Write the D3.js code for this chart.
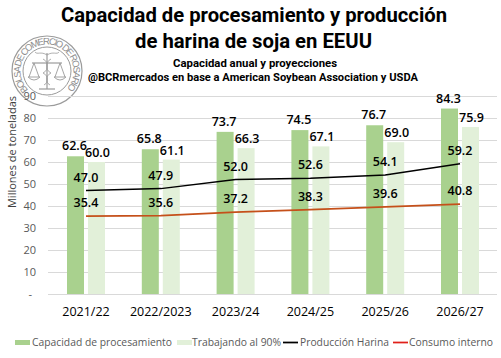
<!DOCTYPE html>
<html><head><meta charset="utf-8">
<script src="https://cdn.jsdelivr.net/npm/d3@7"></script>
<style>
body{margin:0;background:#fff;}
svg{display:block;}
</style></head>
<body>
<svg id="chart" width="501" height="358"></svg>
<script>
const categories = ["2021/22","2022/2023","2023/24","2024/25","2025/26","2026/27"];
const capacidad = [62.6,65.8,73.7,74.5,76.7,84.3];
const trabajando = [60.0,61.1,66.3,67.1,69.0,75.9];
const produccion = [47.0,47.9,52.0,52.6,54.1,59.2];
const consumo = [35.4,35.6,37.2,38.3,39.6,40.8];
const yTicks = [0,10,20,30,40,50,60,70,80,90];

const svg = d3.select("#chart");
const W = 501, H = 358;
svg.append("rect").attr("width",W).attr("height",H).attr("fill","#fff");

const x = d3.scaleBand().domain(categories).range([48.6,497.4]).padding(0);
const y = d3.scaleLinear().domain([0,90]).range([294,96]);
const bw = x.bandwidth();
const x1 = d3.scaleBand().domain(["cap","trab"]).range([bw/2-19,bw/2+19]).paddingInner(0.19).paddingOuter(0);

const fontLab = "'Open Sans', 'Liberation Sans', sans-serif";

// seal / logo
const seal = svg.append("g").attr("transform","translate(47,71)").attr("fill","none").attr("stroke","#8a8a8a").attr("opacity",0.85);
seal.append("circle").attr("r",35).attr("stroke-width",1.2);
seal.append("circle").attr("r",24).attr("stroke-width",1);
const r = 26.5, a0 = -135*Math.PI/180, a1 = 135*Math.PI/180;
svg.append("defs").append("path").attr("id","sealArc")
  .attr("d",`M${r*Math.sin(a0)},${-r*Math.cos(a0)} A${r},${r} 0 1 1 ${r*Math.sin(a1)},${-r*Math.cos(a1)}`);
seal.append("text").attr("stroke","none").attr("fill","#7a7a7a")
  .style("font-family","'Liberation Sans', sans-serif").style("font-size","9.5px")
  .append("textPath").attr("href","#sealArc").attr("textLength",r*270*Math.PI/180-2).attr("lengthAdjust","spacing")
  .text("BOLSA DE COMERCIO DE ROSARIO");
// scales icon
seal.append("line").attr("x1",0).attr("y1",-18).attr("x2",0).attr("y2",18).attr("stroke-width",1.2);
seal.append("line").attr("x1",-15).attr("y1",-8).attr("x2",15).attr("y2",-8).attr("stroke-width",1.2);
[-13,13].forEach(cx=>{
  seal.append("path").attr("d",`M${cx},-8 L${cx-5},6 M${cx},-8 L${cx+5},6 M${cx-6},6 Q${cx},12 ${cx+6},6 Z`).attr("stroke-width",0.9);
});
seal.append("path").attr("d","M-4,-12 C4,-8 -4,-2 4,2 C-4,6 4,10 -3,14 M4,-12 C-4,-8 4,-2 -4,2 C4,6 -4,10 3,14").attr("stroke-width",0.8);
seal.append("path").attr("d","M0,-16 C-6,-20 -10,-16 -12,-19 M0,-16 C6,-20 10,-16 12,-19").attr("stroke-width",0.8);
seal.append("line").attr("x1",-8).attr("y1",18).attr("x2",8).attr("y2",18).attr("stroke-width",1.2);

// titles
const titleFont = "'Liberation Sans Narrow','Roboto','Liberation Sans',sans-serif";
function addText(txt,cx,yb,size,len,weight,fill){
  svg.append("text").attr("x",cx).attr("y",yb).attr("text-anchor","middle")
    .attr("textLength",len).attr("lengthAdjust","spacingAndGlyphs")
    .style("font-family",titleFont).style("font-size",size+"px").style("font-weight",weight).attr("fill",fill||"#000")
    .text(txt);
}
addText("Capacidad de procesamiento y producción",254,22,21,386,"bold");
addText("de harina de soja en EEUU",253.5,47.5,21,237,"bold");
addText("Capacidad anual y proyecciones",255,67,11.5,164,"bold");
addText("@BCRmercados en base a American Soybean Association y USDA",253,81,11.5,330,"bold");

// grid
svg.append("g").selectAll("line").data(yTicks).join("line")
  .attr("x1",48).attr("x2",497).attr("y1",d=>y(d)+0.5).attr("y2",d=>y(d)+0.5)
  .attr("stroke","#d9d9d9").attr("stroke-width",1);

// y tick labels
svg.append("g").selectAll("text").data(yTicks).join("text")
  .attr("x",d=>d===0?32:36).attr("y",d=>y(d)+4).attr("text-anchor","end")
  .style("font-family",fontLab).style("font-size","11px").attr("fill","#595959")
  .text(d=>d===0?"-":d);

// y axis title
svg.append("text").attr("transform","translate(16,152) rotate(-90)").attr("text-anchor","middle")
  .style("font-family",fontLab).style("font-size","11px").attr("fill","#404040")
  .text("Millones de toneladas");

// bars
const g = svg.append("g");
const groups = g.selectAll("g").data(categories).join("g").attr("transform",d=>`translate(${x(d)},0)`);
groups.append("rect").attr("x",x1("cap")).attr("width",x1.bandwidth())
  .attr("y",(d,i)=>y(capacidad[i])).attr("height",(d,i)=>y(0)-y(capacidad[i])).attr("fill","#A9D18E");
groups.append("rect").attr("x",x1("trab")).attr("width",x1.bandwidth())
  .attr("y",(d,i)=>y(trabajando[i])).attr("height",(d,i)=>y(0)-y(trabajando[i])).attr("fill","#E2F0D9");

// lines
const cx = d=>x(d)+bw/2;
const lineGen = vals => d3.line().x((d,i)=>cx(categories[i])).y(d=>y(d))(vals);
svg.append("path").attr("d",lineGen(consumo)).attr("fill","none").attr("stroke","#C5501A").attr("stroke-width",1.75);
svg.append("path").attr("d",lineGen(produccion)).attr("fill","none").attr("stroke","#000").attr("stroke-width",1.5);

// data labels
const lab = (sel)=>sel.style("font-family",fontLab).style("font-size","12.5px").style("font-weight","600").attr("fill","#000").attr("text-anchor","middle");
groups.append("text").call(lab).attr("x",x1("cap")+x1.bandwidth()/2-1).attr("y",(d,i)=>y(capacidad[i])-6).text((d,i)=>capacidad[i].toFixed(1));
groups.append("text").call(lab).attr("x",x1("trab")+x1.bandwidth()/2+1).attr("y",(d,i)=>y(trabajando[i])-5).text((d,i)=>trabajando[i].toFixed(1));
groups.append("text").call(lab).attr("x",bw/2).attr("y",(d,i)=>y(produccion[i])-9).text((d,i)=>produccion[i].toFixed(1));
groups.append("text").call(lab).attr("x",bw/2).attr("y",(d,i)=>y(consumo[i])-9).text((d,i)=>consumo[i].toFixed(1));

// x labels
svg.append("g").selectAll("text").data(categories).join("text")
  .attr("x",d=>cx(d)).attr("y",316).attr("text-anchor","middle")
  .style("font-family",fontLab).style("font-size","12.5px").attr("fill","#000").text(d=>d);

// legend
const legend = [
  {t:"Capacidad de procesamiento", type:"rect", c:"#A9D18E", sx:15, tx:32, tl:140},
  {t:"Trabajando al 90%", type:"rect", c:"#E2F0D9", sx:177, tx:192, tl:89},
  {t:"Producción Harina", type:"line", c:"#000", sx:283, tx:300, tl:89},
  {t:"Consumo interno", type:"line", c:"#E0201A", sx:393, tx:409, tl:84}
];
const lg = svg.append("g");
legend.forEach(l=>{
  if(l.type==="rect") lg.append("rect").attr("x",l.sx).attr("y",340).attr("width",15).attr("height",5).attr("fill",l.c);
  else lg.append("line").attr("x1",l.sx).attr("x2",l.sx+15).attr("y1",342.5).attr("y2",342.5).attr("stroke",l.c).attr("stroke-width",1.75);
  lg.append("text").attr("x",l.tx).attr("y",346).attr("textLength",l.tl).attr("lengthAdjust","spacingAndGlyphs")
    .style("font-family",fontLab).style("font-size","11px").attr("fill","#595959").text(l.t);
});
</script>
</body></html>
